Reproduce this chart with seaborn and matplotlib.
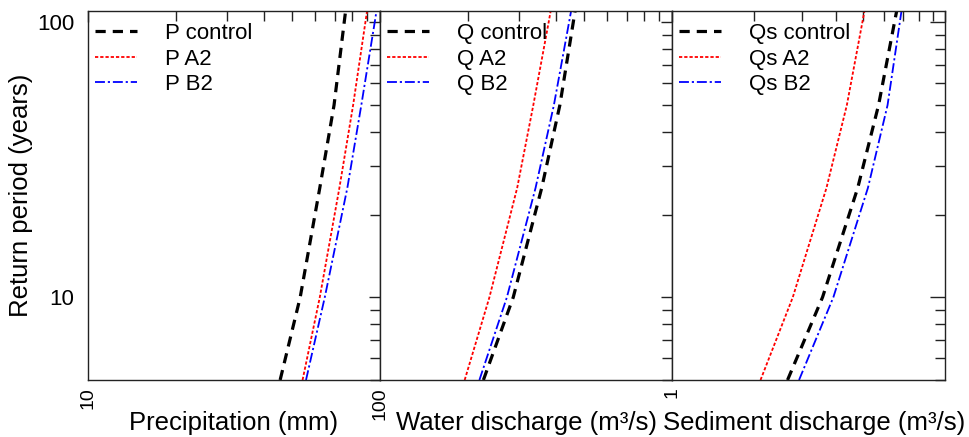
import numpy as np
import pandas as pd
import matplotlib
matplotlib.use('Agg')
import matplotlib.pyplot as plt
import seaborn as sns
from matplotlib.ticker import NullFormatter

sns.set_theme(style='white', rc={'text.color': 'black', 'axes.labelcolor': 'black',
                                 'xtick.color': 'black', 'ytick.color': 'black'})
plt.rcParams['font.family'] = ['Liberation Sans', 'DejaVu Sans']

# =========================
#  DATA
# =========================

periods = [5, 10, 25, 50, 100, 200]

p_control = [45.5, 53.3, 62.2, 69.6, 75.4, 81.7]
p_a2 = [54.3, 62.2, 72.6, 80.9, 89.1, 98.2]
p_b2 = [55.8, 64.7, 77.3, 86.3, 95.9, 106.4]

q_control = [226, 286, 358, 413, 459, 510]
q_a2 = [195, 237, 295, 335, 378, 425]
q_b2 = [219, 272, 341, 394, 444, 500]

qs_control = [2.65, 3.56, 4.79, 5.71, 6.53, 7.47]
qs_a2 = [2.11, 2.77, 3.68, 4.37, 4.98, 5.67]
qs_b2 = [2.92, 3.90, 5.22, 6.16, 6.83, 7.57]

panel_names = ['P', 'Q', 'Qs']
panel_xlabels = ['Precipitation (mm)', 'Water discharge (m³/s)', 'Sediment discharge (m³/s)']
panel_xlims = [(10, 100), (100, 1000), (1, 10)]
panel_xticks = [[10, 100], [100, 1000], [1, 10]]
panel_xticklabels = [['10', '100'], ['', ''], ['1', '']]
label_x = [0.5, 0.5, 0.52]
scenarios = ['control', 'A2', 'B2']

series = {
    'P': [p_control, p_a2, p_b2],
    'Q': [q_control, q_a2, q_b2],
    'Qs': [qs_control, qs_a2, qs_b2],
}

# line styles per scenario
styles = {
    'control': dict(color='black', lw=2.3, dashes=(3.2, 2.2)),
    'A2': dict(color='#ff0000', lw=1.3, dashes=(1.8, 1.1)),
    'B2': dict(color='#0000ff', lw=1.3, dashes=(5.5, 1.6, 1.2, 1.6)),
}


# =========================
#  PLOT
# =========================

def main():
    fig, axes = plt.subplots(1, 3, figsize=(9.69, 4.37), dpi=100, sharey=True,
                             gridspec_kw=dict(width_ratios=[292, 292, 273], wspace=0))
    fig.subplots_adjust(left=88 / 969, right=945 / 969, top=1 - 11 / 437, bottom=1 - 380 / 437)

    for i, (ax, name) in enumerate(zip(axes, panel_names)):
        for scen, vals in zip(scenarios, series[name]):
            df = pd.DataFrame({'value': vals, 'period': periods})
            sns.lineplot(data=df, x='value', y='period', ax=ax, sort=False,
                         estimator=None, label=f'{name} {scen}', **styles[scen])

        ax.set_xscale('log')
        ax.set_yscale('log')
        ax.set_xlim(*panel_xlims[i])
        ax.set_ylim(5, 110)

        ax.set_xticks(panel_xticks[i])
        ax.set_xticklabels(panel_xticklabels[i], rotation=90, fontsize=14)
        ax.xaxis.set_minor_formatter(NullFormatter())
        ax.set_yticks([10, 100])
        ax.set_yticklabels(['10', '100'], fontsize=16)
        ax.yaxis.set_minor_formatter(NullFormatter())

        ax.tick_params(which='both', top=True, right=True, color='#222222')
        major_dir = 'in' if i == 2 else 'inout'
        major_len = 11 if i == 2 else 16
        ax.tick_params(axis='y', which='major', direction=major_dir, length=major_len, width=1, pad=2)
        ax.tick_params(axis='y', which='minor', direction='in', length=7, width=1)
        ax.tick_params(axis='x', which='major', direction='in', length=8, width=1, pad=5)
        ax.tick_params(axis='x', which='minor', direction='in', length=7, width=1)

        for sp in ax.spines.values():
            sp.set_color('#222222')
            sp.set_linewidth(1.0)

        ax.set_xlabel(panel_xlabels[i], fontsize=18.5)
        ax.xaxis.set_label_coords(label_x[i], -0.083)
        ax.set_ylabel('')

        handles, labels = ax.get_legend_handles_labels()
        ax.legend(handles, labels, loc='upper left', bbox_to_anchor=(0.0, 0.985),
                  frameon=False, fontsize=16, handlelength=1.9, handletextpad=1.25,
                  labelspacing=0.2, borderaxespad=0.0, borderpad=0.3)

    axes[0].set_ylabel('Return period (years)', fontsize=18.5)
    axes[0].yaxis.set_label_coords(-0.188, 0.5)

    fig.savefig('out.png', dpi=100)
    plt.close(fig)


if __name__ == '__main__':
    main()
